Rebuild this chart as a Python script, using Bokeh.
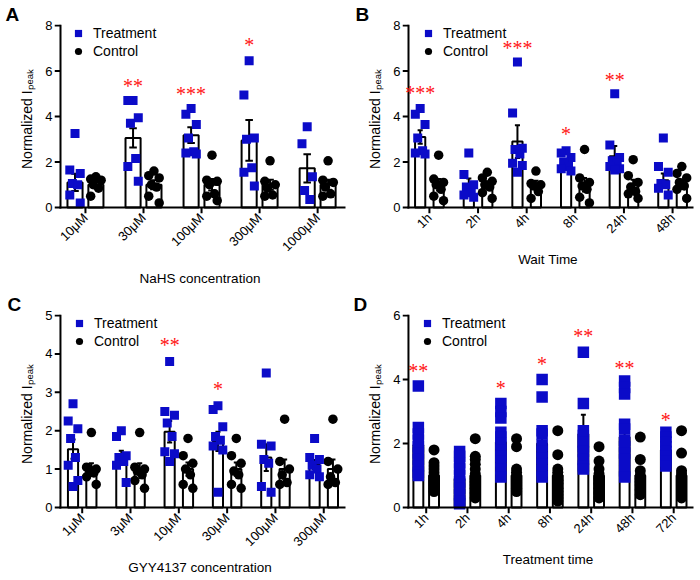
import math
from bokeh.plotting import figure
from bokeh.models import (Range1d, FixedTicker, Legend, LegendItem, LabelSet, ColumnDataSource, Title)
from bokeh.layouts import gridplot
from bokeh.embed import file_html
from bokeh.resources import INLINE

FONT = "Liberation Sans"
BLUE = "#0b0bc8"
RED = "#ff1414"

# ---------------- Panel A: NaHS concentration ----------------
A_cats = ["10μM", "30μM", "100μM", "300μM", "1000μM"]
A_treat = [[3.25, 1.65, 1.5, 1.05, 1.0, 0.55, 0.2],
           [4.7, 4.7, 3.95, 3.7, 2.15, 1.8, 1.15],
           [4.35, 4.1, 3.65, 3.05, 2.45, 2.4, 2.35],
           [6.45, 4.95, 3.05, 3.0, 1.75, 1.55, 0.95],
           [3.55, 2.8, 1.35, 0.75, 0.35]]
A_ctrl = [[1.35, 1.25, 1.2, 1.0, 0.85, 0.5],
          [1.6, 1.4, 1.3, 1.0, 0.9, 0.5, 0.2],
          [2.3, 1.2, 1.15, 1.0, 0.6, 0.5, 0.3],
          [2.05, 1.15, 1.0, 0.85, 0.55, 0.5],
          [2.05, 1.2, 1.1, 0.9, 0.6, 0.5]]
A_t_mean = [1.1, 3.06, 3.18, 2.95, 1.72]
A_t_sem = [0.38, 0.42, 0.35, 0.9, 0.62]
A_c_mean = [1.0, 1.0, 1.0, 1.0, 1.0]
A_c_sem = [0.12, 0.2, 0.25, 0.22, 0.22]
A_stars = ["", "**", "***", "*", ""]
A_star_y = [0, 5.5, 5.15, 7.3, 0]

# ---------------- Panel B: Wait time ----------------
B_cats = ["1h", "2h", "4h", "8h", "24h", "48h"]
B_treat = [[4.35, 4.1, 3.65, 3.05, 2.5, 2.4, 2.35],
           [2.4, 1.45, 1.0, 0.9, 0.65, 0.55, 0.45],
           [6.4, 4.15, 2.6, 2.55, 2.35, 1.95, 1.85, 1.55],
           [2.5, 2.4, 2.2, 2.0, 1.8, 1.7, 1.6],
           [5.0, 2.75, 2.2, 2.05, 1.95, 1.8, 1.7, 1.65],
           [3.05, 1.8, 1.55, 1.05, 1.0, 0.85, 0.55]]
B_ctrl = [[2.3, 1.25, 1.1, 1.0, 0.8, 0.5, 0.3],
          [1.55, 1.3, 1.15, 1.0, 0.9, 0.65, 0.4],
          [1.6, 1.05, 1.0, 0.95, 0.7, 0.4],
          [2.55, 1.3, 1.1, 0.95, 0.8, 0.45, 0.2],
          [2.1, 1.4, 1.1, 0.9, 0.7, 0.6, 0.4],
          [1.8, 1.5, 1.3, 1.1, 0.95, 0.8, 0.4]]
B_t_mean = [3.1, 1.02, 2.9, 1.95, 2.25, 1.2]
B_t_sem = [0.3, 0.25, 0.72, 0.15, 0.45, 0.3]
B_c_mean = [1.0, 1.0, 1.0, 1.0, 1.0, 1.0]
B_c_sem = [0.25, 0.15, 0.18, 0.3, 0.22, 0.18]
B_stars = ["***", "", "***", "*", "**", ""]
B_star_y = [5.2, 0, 7.2, 3.4, 5.8, 0]

# ---------------- Panel C: GYY4137 concentration ----------------
C_cats = ["1μM", "3μM", "10μM", "30μM", "100μM", "300μM"]
C_treat = [[2.7, 2.25, 2.05, 1.8, 1.3, 1.1, 0.7, 0.55],
           [2.0, 1.85, 1.35, 1.3, 1.2, 1.1, 0.65],
           [3.8, 2.5, 2.4, 2.2, 1.85, 1.45, 1.4, 1.2],
           [2.65, 2.55, 2.1, 1.85, 1.75, 1.6, 1.5, 0.4],
           [3.5, 1.65, 1.6, 1.25, 1.15, 0.55, 0.4],
           [1.8, 1.3, 1.25, 1.1, 1.0, 0.85, 0.8]]
C_ctrl = [[1.95, 1.05, 1.0, 1.0, 0.9, 0.8, 0.6],
          [1.95, 1.05, 1.0, 0.95, 0.85, 0.7, 0.5],
          [1.8, 1.35, 1.15, 1.0, 0.85, 0.6, 0.5],
          [1.8, 1.35, 1.15, 0.95, 0.85, 0.6, 0.5],
          [2.3, 1.2, 1.0, 0.85, 0.65, 0.6],
          [2.3, 1.2, 1.0, 0.8, 0.65, 0.6]]
C_t_mean = [1.52, 1.38, 1.97, 1.72, 1.3, 1.12]
C_t_sem = [0.25, 0.1, 0.28, 0.25, 0.35, 0.12]
C_c_mean = [1.0, 1.0, 1.0, 1.0, 1.0, 1.0]
C_c_sem = [0.15, 0.15, 0.17, 0.17, 0.25, 0.25]
C_stars = ["", "", "**", "*", "", ""]
C_star_y = [0, 0, 4.33, 3.2, 0, 0]

# ---------------- Panel D: Treatment time ----------------
D_cats = ["1h", "2h", "4h", "8h", "24h", "48h", "72h"]
D_treat = [[3.8, 2.5, 2.3, 2.1, 1.9, 1.7, 1.5, 1.3, 1.1, 1.0],
           [1.75, 1.6, 1.4, 1.2, 1.0, 0.8, 0.6, 0.4, 0.2, 0.12],
           [3.25, 3.0, 2.8, 2.35, 2.2, 2.0, 1.8, 1.6, 1.45, 1.2, 0.95],
           [4.0, 3.45, 2.4, 2.3, 1.95, 1.75, 1.55, 1.35, 1.15, 0.95],
           [4.85, 3.25, 2.4, 2.25, 2.05, 1.9, 1.75, 1.5, 1.3, 1.2],
           [3.95, 3.75, 3.55, 2.6, 2.45, 2.1, 1.9, 1.7, 1.5, 1.15, 0.95],
           [2.35, 2.2, 2.05, 1.9, 1.75, 1.6, 1.45, 1.3]]
D_ctrl = [[1.8, 1.4, 1.3, 1.2, 1.1, 1.0, 0.9, 0.8, 0.7, 0.6, 0.5],
          [2.15, 1.6, 1.5, 1.35, 1.2, 1.05, 0.9, 0.8, 0.7, 0.6, 0.45, 0.3],
          [2.15, 1.9, 1.2, 1.1, 1.0, 0.9, 0.8, 0.7, 0.6, 0.5],
          [2.4, 1.65, 1.2, 1.1, 1.0, 0.85, 0.75, 0.6, 0.5, 0.4, 0.3, 0.2],
          [1.9, 1.45, 1.2, 1.05, 0.9, 0.75, 0.6, 0.45, 0.3],
          [2.2, 1.5, 1.15, 1.0, 0.9, 0.8, 0.7, 0.55, 0.4],
          [2.4, 1.7, 1.15, 1.05, 0.95, 0.85, 0.7, 0.55, 0.4, 0.3]]
D_t_mean = [1.95, 0.9, 2.05, 2.0, 2.3, 2.2, 1.8]
D_t_sem = [0.3, 0.18, 0.25, 0.25, 0.6, 0.3, 0.15]
D_c_mean = [1.0, 1.0, 1.0, 1.0, 1.0, 1.0, 1.0]
D_c_sem = [0.15, 0.15, 0.17, 0.2, 0.17, 0.17, 0.2]
D_stars = ["**", "", "*", "*", "**", "**", "*"]
D_star_y = [4.4, 0, 3.87, 4.6, 5.5, 4.5, 2.87]

JIT = [0, -1, 1, -0.5, 0.5, -1, 1, 0, -0.5, 0.5, 0, 1]
TICK = 6


def make_panel(letter, cats, treat, ctrl, t_mean, t_sem, c_mean, c_sem, stars, star_y, xlabel,
               ymax, yticks, xlo, xhi, fig_left, fig_w, axis_px, frame_right, top_page, mbt, y0_page,
               bb, xlab_standoff, dx, bw, jit, msq, mci, leg_vx, letter_x):
    ftop = top_page + mbt
    ymax_page = ftop + 1
    fbot = y0_page + TICK
    fig_h = mbt + (fbot - ftop) + bb
    ppu_y = (y0_page - ymax_page) / ymax
    ppu_x = (frame_right - axis_px) / (xhi - xlo)
    tx_len = TICK / ppu_x
    ty_len = TICK / ppu_y
    frame_left = axis_px - TICK
    p = figure(width=fig_w, height=fig_h, output_backend="svg", toolbar_location=None,
               x_range=Range1d(xlo - tx_len, xhi), y_range=Range1d(-ty_len, ymax + 1 / ppu_y),
               min_border_left=frame_left - fig_left,
               min_border_right=fig_left + fig_w - frame_right,
               min_border_top=mbt, min_border_bottom=bb)
    p.outline_line_color = None
    p.grid.visible = False
    n = len(cats)
    idx = list(range(n))
    xt = [i - dx for i in idx]
    xc = [i + dx for i in idx]
    # bars (means)
    p.vbar(x=xt, top=t_mean, width=bw, bottom=0, fill_color="white", line_color="black", line_width=2)
    p.vbar(x=xc, top=c_mean, width=bw, bottom=0, fill_color="white", line_color="black", line_width=2)
    # error bars (mean +/- SEM)
    cw = bw * 0.25
    for xs, m, s in ((xt, t_mean, t_sem), (xc, c_mean, c_sem)):
        lo = [a - b for a, b in zip(m, s)]
        hi = [a + b for a, b in zip(m, s)]
        p.segment(x0=xs, y0=lo, x1=xs, y1=hi, line_color="black", line_width=2)
        p.segment(x0=[x - cw for x in xs], y0=hi, x1=[x + cw for x in xs], y1=hi, line_color="black", line_width=2)
        p.segment(x0=[x - cw for x in xs], y0=lo, x1=[x + cw for x in xs], y1=lo, line_color="black", line_width=2)
    # individual points
    px_t, py_t, px_c, py_c = [], [], [], []
    for i in idx:
        for k, v in enumerate(treat[i]):
            px_t.append(xt[i] + JIT[k % len(JIT)] * jit)
            py_t.append(v)
        for k, v in enumerate(ctrl[i]):
            px_c.append(xc[i] + JIT[k % len(JIT)] * jit)
            py_c.append(v)
    rc = p.scatter(x=px_c, y=py_c, marker="circle", size=mci, fill_color="black", line_color=None)
    rt = p.scatter(x=px_t, y=py_t, marker="square", size=msq, fill_color=BLUE, line_color=None)
    # axis rules and ticks on the plot's scales
    p.segment(x0=[xlo], y0=[0], x1=[xlo], y1=[ymax], line_color="black", line_width=2, line_cap="square")
    p.segment(x0=[xlo], y0=[0], x1=[xhi], y1=[0], line_color="black", line_width=2, line_cap="square")
    p.segment(x0=[xlo] * len(yticks), y0=yticks, x1=[xlo - tx_len] * len(yticks), y1=yticks,
              line_color="black", line_width=2)
    p.segment(x0=idx, y0=[0] * n, x1=idx, y1=[-ty_len] * n, line_color="black", line_width=2)
    # Bokeh axes: tick labels and axis titles
    for ax in (p.xaxis[0], p.yaxis[0]):
        ax.axis_line_color = None
        ax.major_tick_line_color = None
        ax.minor_tick_line_color = None
        ax.major_tick_out = 0
        ax.major_tick_in = 0
        ax.major_label_text_font = FONT
        ax.major_label_text_font_size = "13px"
        ax.major_label_text_color = "black"
        ax.axis_label_text_font = FONT
        ax.axis_label_text_font_size = "14px"
        ax.axis_label_text_font_style = "normal"
        ax.axis_label_text_color = "black"
    p.yaxis.ticker = FixedTicker(ticks=yticks, minor_ticks=[])
    p.yaxis.major_label_standoff = 2
    p.yaxis.axis_label = "Normalized Iₚₑₐₖ"
    p.yaxis.axis_label_standoff = 7
    p.xaxis.ticker = FixedTicker(ticks=idx, minor_ticks=[])
    p.xaxis.major_label_overrides = {i: c for i, c in enumerate(cats)}
    p.xaxis.major_label_orientation = math.pi / 4
    p.xaxis.major_label_standoff = 2
    p.xaxis.axis_label = xlabel
    p.xaxis.axis_label_text_font_size = "13.5px"
    p.xaxis.axis_label_standoff = xlab_standoff
    # legend inside the plot, top-left
    fh = fbot - ftop
    leg = Legend(items=[LegendItem(label="Treatment", renderers=[rt]),
                        LegendItem(label="Control", renderers=[rc])],
                 location=(leg_vx, fh - 36), padding=0, margin=0, spacing=0,
                 glyph_width=22, glyph_height=18, label_height=18, label_standoff=4,
                 label_text_font=FONT, label_text_font_size="14px", label_text_color="black",
                 border_line_color=None, background_fill_alpha=0)
    p.add_layout(leg)
    # significance asterisks
    sx = [xt[i] for i in idx if stars[i]]
    sy = [star_y[i] for i in idx if stars[i]]
    st = [stars[i] for i in idx if stars[i]]
    src = ColumnDataSource(dict(x=sx, y=sy, t=st))
    p.add_layout(LabelSet(x="x", y="y", text="t", source=src, text_color=RED, text_font=FONT,
                          text_font_size="20px", text_align="center", text_baseline="alphabetic",
                          y_offset=-11))
    # panel letter as a left-aligned title, shifted to the figure's left edge
    p.add_layout(Title(text=letter, text_font=FONT, text_font_size="19px", text_font_style="bold",
                       text_color="black", align="left", offset=letter_x - frame_left, standoff=0),
                 "above")
    return p


pA = make_panel("A", A_cats, A_treat, A_ctrl, A_t_mean, A_t_sem, A_c_mean, A_c_sem, A_stars, A_star_y,
                "NaHS concentration", 8, [0, 2, 4, 6, 8], -0.43, 4.48, 0, 350, 60, 345, 0, 24, 207,
                77, 8, 0.18, 0.26, 0.09, 9, 9.5, 13, 5)
pB = make_panel("B", B_cats, B_treat, B_ctrl, B_t_mean, B_t_sem, B_c_mean, B_c_sem, B_stars, B_star_y,
                "Wait Time", 8, [0, 2, 4, 6, 8], -0.43, 5.43, 350, 348, 408, 693, 0, 24, 207,
                77, 8, 0.19, 0.21, 0.1, 9, 9.5, 15, 355)
pC = make_panel("C", C_cats, C_treat, C_ctrl, C_t_mean, C_t_sem, C_c_mean, C_c_sem, C_stars, C_star_y,
                "GYY4137 concentration", 5, [0, 1, 2, 3, 4, 5], -0.45, 5.45, 0, 350, 60, 347, 290, 24, 507,
                65, 3, 0.19, 0.21, 0.1, 9, 9.5, 14, 7)
pD = make_panel("D", D_cats, D_treat, D_ctrl, D_t_mean, D_t_sem, D_c_mean, D_c_sem, D_stars, D_star_y,
                "Treatment time", 6, [0, 2, 4, 6], -0.43, 6.48, 350, 348, 408, 695, 290, 24, 507,
                65, 8, 0.19, 0.24, 0.0, 11.5, 11, 14, 353)

grid = gridplot([[pA, pB], [pC, pD]], toolbar_location=None)
open("out.html", "w").write(file_html(grid, INLINE))
